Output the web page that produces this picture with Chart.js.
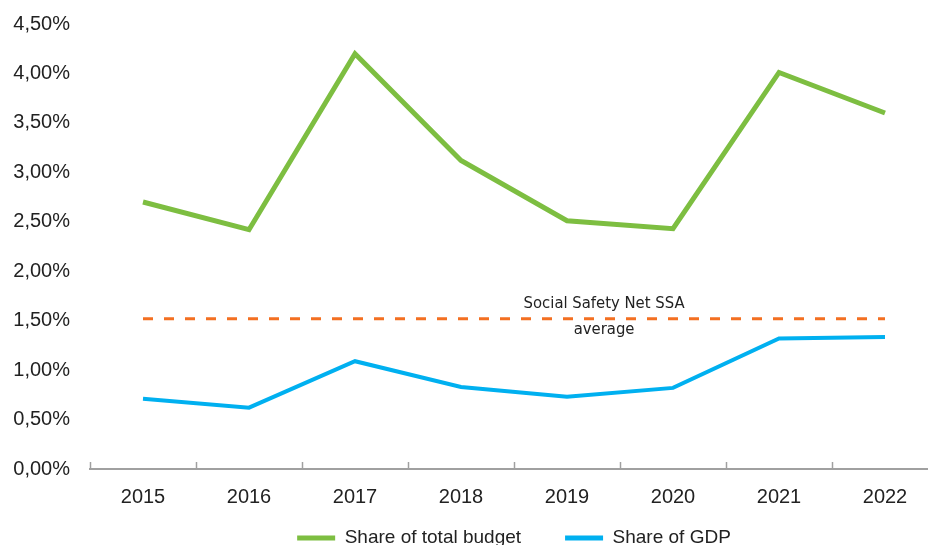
<!DOCTYPE html>
<html>
<head>
<meta charset="utf-8">
<script src="https://cdn.jsdelivr.net/npm/chart.js@4"></script>
<style>
    body { margin: 0; overflow: hidden; background: #fff; }
    .wrap { width: 940px; height: 545px; }
</style>
</head>
<body>
<div class="wrap"><canvas id="budgetChart" width="940" height="545"></canvas></div>
<script>
// Data
const years = ['2015', '2016', '2017', '2018', '2019', '2020', '2021', '2022'];
const shareOfBudget = [2.70, 2.42, 4.20, 3.12, 2.51, 2.43, 4.01, 3.60];
const shareOfGdp = [0.71, 0.62, 1.09, 0.83, 0.73, 0.82, 1.32, 1.335];
const ssaAverage = 1.52;
const ssaLabel = ['Social Safety Net SSA', 'average'];
const yTicks = [0, 0.5, 1, 1.5, 2, 2.5, 3, 3.5, 4, 4.5];

const textColor = '#222';
const axisColor = '#a0a0a0';

// x axis: tick marks pointing up at category boundaries
const axisTicks = {
    id: 'axisTicks',
    afterDraw(chart) {
        const x = chart.scales.x;
        const ctx = chart.ctx;
        const half = (x.getPixelForValue(1) - x.getPixelForValue(0)) / 2;
        ctx.save();
        ctx.strokeStyle = axisColor;
        ctx.lineWidth = 1.5;
        for (let i = 0; i <= years.length; i++) {
            const px = Math.round(x.getPixelForValue(i) - half) + 0.5;
            ctx.beginPath();
            ctx.moveTo(px, x.top);
            ctx.lineTo(px, x.top - 7);
            ctx.stroke();
        }
        ctx.restore();
    }
};

// pull the legend up close under the year labels
const legendShift = {
    id: 'legendShift',
    afterLayout(chart) {
        const lg = chart.legend;
        const dy = chart.scales.x.top + 15.5 - lg.top;
        lg.top += dy;
        lg.bottom += dy;
    }
};

// label for the average line
const avgLabel = {
    id: 'avgLabel',
    afterDatasetsDraw(chart) {
        const ctx = chart.ctx;
        const px = chart.scales.x.getPixelForValue(4.35);
        const py = chart.scales.y.getPixelForValue(ssaAverage);
        ctx.save();
        ctx.fillStyle = textColor;
        ctx.font = '16.5px "Liberation Sans Narrow", "DejaVu Sans Condensed", sans-serif';
        ctx.textAlign = 'center';
        ctx.textBaseline = 'middle';
        ctx.fillText(ssaLabel[0], px, py - 15);
        ctx.fillText(ssaLabel[1], px, py + 11);
        ctx.restore();
    }
};

document.addEventListener('DOMContentLoaded', () => {
    const ctx = document.getElementById('budgetChart').getContext('2d');
    new Chart(ctx, {
        type: 'line',
        data: {
            labels: years,
            datasets: [{
                label: 'Share of total budget',
                data: shareOfBudget,
                borderColor: '#7dbe41',
                backgroundColor: '#7dbe41',
                borderWidth: 5,
                borderJoinStyle: 'miter',
                pointRadius: 0,
                tension: 0
            }, {
                label: 'Share of GDP',
                data: shareOfGdp,
                borderColor: '#00b0f0',
                backgroundColor: '#00b0f0',
                borderWidth: 4,
                borderJoinStyle: 'miter',
                pointRadius: 0,
                tension: 0
            }, {
                label: 'SSA average',
                data: years.map(() => ssaAverage),
                borderColor: '#f36f21',
                borderWidth: 3,
                borderDash: [10, 11],
                pointRadius: 0
            }]
        },
        options: {
            responsive: false,
            animation: false,
            devicePixelRatio: 1,
            layout: { padding: { top: 24, right: 2, bottom: -39, left: 0 } },
            plugins: {
                tooltip: { enabled: false },
                legend: {
                    position: 'bottom',
                    fullSize: false,
                    labels: {
                        color: textColor,
                        font: { family: '"Liberation Sans", Arial, sans-serif', size: 19 },
                        boxWidth: 38,
                        boxHeight: 5,
                        padding: 44,
                        generateLabels(chart) {
                            return Chart.defaults.plugins.legend.labels.generateLabels(chart)
                                .filter(item => item.datasetIndex < 2)
                                .map(item => Object.assign(item, { lineWidth: 0 }));
                        }
                    }
                }
            },
            scales: {
                x: {
                    offset: true,
                    grid: { display: false, drawTicks: false },
                    border: { display: true, color: axisColor, width: 2 },
                    ticks: {
                        color: textColor,
                        padding: 16,
                        maxRotation: 0,
                        autoSkip: false,
                        font: { family: '"Liberation Sans", Arial, sans-serif', size: 20 }
                    },
                    afterFit(scale) { scale.height = 42; }
                },
                y: {
                    min: 0,
                    max: 4.5,
                    grid: { display: false, drawTicks: false },
                    border: { display: false },
                    afterBuildTicks(scale) { scale.ticks = yTicks.map(v => ({ value: v })); },
                    ticks: {
                        color: textColor,
                        padding: 20,
                        font: { family: '"Liberation Sans", Arial, sans-serif', size: 20 },
                        callback: v => v.toFixed(2).replace('.', ',') + '%'
                    },
                    afterFit(scale) {
                        scale.width = 90;
                        scale.paddingTop = 12;
                        scale.paddingBottom = 12;
                    }
                }
            }
        },
        plugins: [axisTicks, legendShift, avgLabel]
    });
});
</script>
</body>
</html>
